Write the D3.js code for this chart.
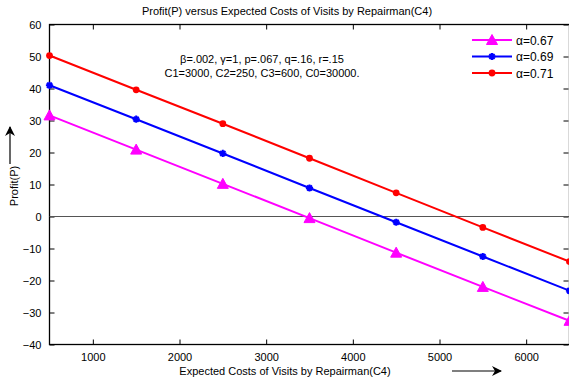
<!DOCTYPE html>
<html>
<head>
<meta charset="utf-8">
<script src="https://cdn.jsdelivr.net/npm/d3@7"></script>
<style>
  body { margin: 0; background: #fff; }
  svg { display: block; font-family: "Liberation Sans", Arial, sans-serif; }
</style>
</head>
<body>
<svg id="chart" width="569" height="382"></svg>
<script>
// Expected cost of visits by repairman (C4)
const costs = [500, 1500, 2500, 3500, 4500, 5500, 6500];

// Profit for each alpha value
const profit067 = [31.6, 20.9, 10.2, -0.5, -11.3, -22.0, -32.6];
const profit069 = [41.0, 30.4, 19.7, 8.9, -1.8, -12.5, -23.2];
const profit071 = [50.3, 39.6, 29.0, 18.2, 7.4, -3.4, -14.1];

const seriesNames = ["\u03b1=0.67", "\u03b1=0.69", "\u03b1=0.71"];
const xTicks = [1000, 2000, 3000, 4000, 5000, 6000];
const yTicks = [-40, -30, -20, -10, 0, 10, 20, 30, 40, 50, 60];

const series = [
  { name: seriesNames[0], values: profit067, color: "#ff00ff", marker: "triangle" },
  { name: seriesNames[1], values: profit069, color: "#0000ff", marker: "star" },
  { name: seriesNames[2], values: profit071, color: "#ff0000", marker: "circle" }
];

const svg = d3.select("#chart");
const m = { left: 49.5, right: 569.5, top: 24.5, bottom: 344.5 };

const x = d3.scaleLinear().domain([500, 6500]).range([m.left, m.right]);
const y = d3.scaleLinear().domain([-40, 60]).range([m.bottom, m.top]);

// Title
svg.append("text")
  .attr("x", 287).attr("y", 15)
  .attr("text-anchor", "middle")
  .attr("font-size", 11)
  .text("Profit(P) versus Expected Costs of Visits by Repairman(C4)");

// Axes with inward ticks (box style)
const tickLen = 5;
const fmt = d3.format("d");
svg.append("g").attr("transform", `translate(0,${m.bottom})`)
  .call(d3.axisBottom(x).tickValues(xTicks).tickSize(-tickLen).tickPadding(9).tickFormat(fmt))
  .call(g => g.select(".domain").remove());
svg.append("g").attr("transform", `translate(0,${m.top})`)
  .call(d3.axisTop(x).tickValues(xTicks).tickSize(-tickLen).tickFormat(""))
  .call(g => g.select(".domain").remove());
svg.append("g").attr("transform", `translate(${m.left},0)`)
  .call(d3.axisLeft(y).tickValues(yTicks).tickSize(-tickLen).tickPadding(8).tickFormat(fmt))
  .call(g => g.select(".domain").remove());
svg.append("g").attr("transform", `translate(${m.right - 1},0)`)
  .call(d3.axisRight(y).tickValues(yTicks).tickSize(-tickLen).tickFormat(""))
  .call(g => g.select(".domain").remove());

svg.selectAll(".tick text").attr("font-size", 11).attr("fill", "#000")
  .attr("font-family", "Liberation Sans, Arial, sans-serif");
svg.selectAll(".tick line").attr("stroke", "#000");

// Plot box
svg.append("rect")
  .attr("x", m.left).attr("y", m.top)
  .attr("width", m.right - m.left).attr("height", m.bottom - m.top)
  .attr("fill", "none").attr("stroke", "#000").attr("stroke-width", 1.3);

// Zero reference line
svg.append("line")
  .attr("x1", m.left).attr("x2", m.right)
  .attr("y1", y(0)).attr("y2", y(0))
  .attr("stroke", "#555").attr("stroke-width", 1.2);

// Marker drawing helper
function drawMarker(g, type, color, cx, cy) {
  if (type === "triangle") {
    g.append("path")
      .attr("d", `M${cx},${cy - 5.5}L${cx + 5.5},${cy + 4.5}L${cx - 5.5},${cy + 4.5}Z`)
      .attr("fill", color).attr("stroke", color);
  } else if (type === "circle") {
    g.append("circle").attr("cx", cx).attr("cy", cy).attr("r", 3.4).attr("fill", color);
  } else {
    const r = 3.6;
    const p = [];
    for (let k = 0; k < 4; k++) {
      const a = k * Math.PI / 4;
      p.push(`M${cx - r * Math.cos(a)},${cy - r * Math.sin(a)}L${cx + r * Math.cos(a)},${cy + r * Math.sin(a)}`);
    }
    g.append("path").attr("d", p.join("")).attr("stroke", color).attr("stroke-width", 2);
  }
}

const line = d3.line().x((d, i) => x(costs[i])).y(d => y(d));
series.forEach(s => {
  const g = svg.append("g");
  g.append("path").datum(s.values)
    .attr("d", line).attr("fill", "none")
    .attr("stroke", s.color).attr("stroke-width", 2);
  s.values.forEach((v, i) => drawMarker(g, s.marker, s.color, x(costs[i]), y(v)));
});

// Parameter annotation
const ann = svg.append("text").attr("font-size", 11).attr("text-anchor", "middle");
ann.append("tspan").attr("x", 262).attr("y", 63)
  .text("\u03b2=.002, \u03b3=1, p=.067, q=.16, r=.15");
ann.append("tspan").attr("x", 262).attr("y", 77)
  .text("C1=3000, C2=250, C3=600, C0=30000.");

// Legend
const legend = svg.append("g");
series.forEach((s, i) => {
  const ly = 40 + i * 16.5;
  legend.append("line").attr("x1", 472).attr("x2", 512).attr("y1", ly).attr("y2", ly)
    .attr("stroke", s.color).attr("stroke-width", 2);
  drawMarker(legend, s.marker, s.color, 492, ly);
  legend.append("text").attr("x", 516).attr("y", ly + 4.5)
    .attr("font-size", 12).text(s.name);
});

// Axis labels with direction arrows
svg.append("defs").append("marker")
  .attr("id", "arrow").attr("viewBox", "0 0 10 10")
  .attr("refX", 9).attr("refY", 5)
  .attr("markerWidth", 10).attr("markerHeight", 10)
  .attr("markerUnits", "userSpaceOnUse")
  .attr("orient", "auto")
  .append("path").attr("d", "M0,0L10,5L0,10L3,5Z").attr("fill", "#000");

svg.append("text")
  .attr("x", 285).attr("y", 375)
  .attr("text-anchor", "middle").attr("font-size", 11)
  .text("Expected Costs of Visits by Repairman(C4)");
svg.append("line")
  .attr("x1", 452).attr("x2", 501).attr("y1", 371).attr("y2", 371)
  .attr("stroke", "#000").attr("stroke-width", 1.2)
  .attr("marker-end", "url(#arrow)");

svg.append("text")
  .attr("transform", "translate(18,186) rotate(-90)")
  .attr("text-anchor", "middle").attr("font-size", 11)
  .text("Profit(P)");
svg.append("line")
  .attr("x1", 10).attr("x2", 10).attr("y1", 164).attr("y2", 127)
  .attr("stroke", "#000").attr("stroke-width", 1.2)
  .attr("marker-end", "url(#arrow)");
</script>
</body>
</html>
